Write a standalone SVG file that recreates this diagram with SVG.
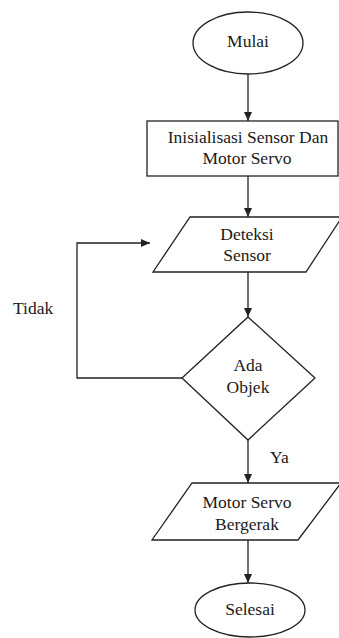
<svg xmlns="http://www.w3.org/2000/svg" width="339" height="638" viewBox="0 0 339 638">
<style>
.shape{fill:#fff;stroke:#222;stroke-width:1.3}
.conn{fill:none;stroke:#222;stroke-width:1.3}
</style>
<defs>
<marker id="arr" markerWidth="10" markerHeight="8" refX="9" refY="4" orient="auto" markerUnits="userSpaceOnUse">
<path d="M0,0 L9,4 L0,8 Z" fill="#222"/>
</marker>
</defs>
<rect width="339" height="638" fill="#fff"/>
<g id="connectors">
<line class="conn" x1="248" y1="74" x2="248" y2="121" marker-end="url(#arr)"/>
<line class="conn" x1="248" y1="176" x2="248" y2="217" marker-end="url(#arr)"/>
<line class="conn" x1="248" y1="272" x2="248" y2="317" marker-end="url(#arr)"/>
<polyline class="conn" points="182,378 77,378 77,243 150,243" marker-end="url(#arr)"/>
<text x="13" y="314" font-family="Liberation Serif" font-size="17.5" fill="#1a1a1a">Tidak</text>
<line class="conn" x1="248" y1="440" x2="248" y2="483" marker-end="url(#arr)"/>
<text x="270" y="463" font-family="Liberation Serif" font-size="17.5" fill="#1a1a1a">Ya</text>
<line class="conn" x1="248" y1="540" x2="248" y2="583" marker-end="url(#arr)"/>
</g>
<g id="mulai">
<ellipse class="shape" cx="248" cy="43" rx="55" ry="31"/>
<text x="248" y="47" font-family="Liberation Serif" font-size="17.5" fill="#1a1a1a" text-anchor="middle">Mulai</text>
</g>
<g id="inisialisasi">
<rect class="shape" x="147" y="121" width="191" height="55"/>
<text x="248" y="143" font-family="Liberation Serif" font-size="17.5" fill="#1a1a1a" text-anchor="middle">Inisialisasi Sensor Dan</text>
<text x="247" y="164" font-family="Liberation Serif" font-size="17.5" fill="#1a1a1a" text-anchor="middle">Motor Servo</text>
</g>
<g id="deteksi">
<polygon class="shape" points="190,217 342,217 306,272 153,272"/>
<text x="247" y="240" font-family="Liberation Serif" font-size="17.5" fill="#1a1a1a" text-anchor="middle">Deteksi</text>
<text x="247" y="261" font-family="Liberation Serif" font-size="17.5" fill="#1a1a1a" text-anchor="middle">Sensor</text>
</g>
<g id="ada-objek">
<polygon class="shape" points="248,317 315,378 248,440 182,378"/>
<text x="248" y="371" font-family="Liberation Serif" font-size="17.5" fill="#1a1a1a" text-anchor="middle">Ada</text>
<text x="248" y="393" font-family="Liberation Serif" font-size="17.5" fill="#1a1a1a" text-anchor="middle">Objek</text>
</g>
<g id="motor-bergerak">
<polygon class="shape" points="192,483 341,483 298,540 152,540"/>
<text x="247" y="508" font-family="Liberation Serif" font-size="17.5" fill="#1a1a1a" text-anchor="middle">Motor Servo</text>
<text x="247" y="530" font-family="Liberation Serif" font-size="17.5" fill="#1a1a1a" text-anchor="middle">Bergerak</text>
</g>
<g id="selesai">
<ellipse class="shape" cx="250" cy="610" rx="55" ry="27"/>
<text x="250" y="615" font-family="Liberation Serif" font-size="17.5" fill="#1a1a1a" text-anchor="middle">Selesai</text>
</g>
</svg>
